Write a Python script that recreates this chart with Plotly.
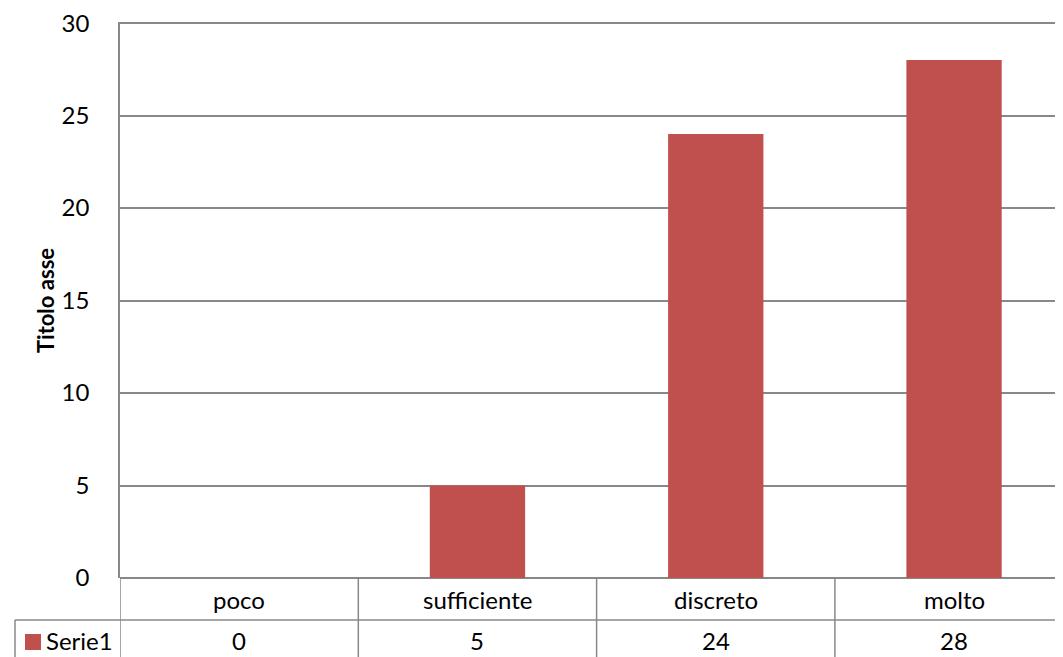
import plotly.graph_objects as go

categories = ["poco", "sufficiente", "discreto", "molto"]
values = [0, 5, 24, 28]
series_name = "Serie1"
y_ticks = [0, 5, 10, 15, 20, 25, 30]
axis_title = "Titolo asse"

BAR_COLOR = "#C0504D"
GRID = "#888888"
FONT = "Lato"
FS = 24

# page body has an 8px margin; lay out in reference-pixel terms and shift
OFF = 8
W, H = 1063 - OFF, 657 - OFF
Y_MAX = 30
Y_TOP = 30.06  # a hair above 30 so the top gridline and label are drawn
REF_L, REF_T, REF_B = 120, 23, 578  # plot area in reference pixels (y=30 at REF_T)
px_per_unit = (REF_B - REF_T) / Y_MAX
plot_h = px_per_unit * Y_TOP
L = REF_L - OFF
B = H - (REF_B - OFF)
T = H - B - plot_h
plot_w = W - L
cat_w = 238.3  # pixel width of a category

def px_to_paper_x(px):
    return (px - OFF - L) / plot_w

def px_to_paper_y(py):
    return (REF_B - py) / plot_h

x_idx = list(range(len(categories)))
x_max = -0.5 + plot_w / cat_w

fig = go.Figure()
fig.add_trace(go.Bar(x=x_idx, y=values, marker=dict(color=BAR_COLOR, line=dict(width=0)),
                     name=series_name, showlegend=False))

shapes = []
for i in range(len(categories) + 1):
    shapes.append(dict(type="line", xref="x", yref="paper", x0=i - 0.5, x1=i - 0.5,
                       y0=0, y1=px_to_paper_y(670), line=dict(color=GRID, width=1.5)))
shapes.append(dict(type="line", xref="paper", yref="paper", x0=px_to_paper_x(15), x1=1.05,
                   y0=px_to_paper_y(620), y1=px_to_paper_y(620), line=dict(color=GRID, width=1.5)))
shapes.append(dict(type="line", xref="paper", yref="paper", x0=px_to_paper_x(15), x1=px_to_paper_x(15),
                   y0=px_to_paper_y(620), y1=px_to_paper_y(670), line=dict(color=GRID, width=1.5)))
shapes.append(dict(type="rect", xref="paper", yref="paper", x0=px_to_paper_x(25), x1=px_to_paper_x(41),
                   y0=px_to_paper_y(650), y1=px_to_paper_y(634), fillcolor=BAR_COLOR, line=dict(width=0)))

annotations = []
for i, (c, v) in enumerate(zip(categories, values)):
    annotations.append(dict(x=i, xref="x", y=px_to_paper_y(600), yref="paper", text=c, showarrow=False,
                            xanchor="center", yanchor="middle", font=dict(family=FONT, size=FS, color="black")))
    annotations.append(dict(x=i, xref="x", y=px_to_paper_y(641), yref="paper", text=str(v), showarrow=False,
                            xanchor="center", yanchor="middle", font=dict(family=FONT, size=FS, color="black")))
annotations.append(dict(x=px_to_paper_x(44), xref="paper", y=px_to_paper_y(641), yref="paper", text=series_name,
                        showarrow=False, xanchor="left", yanchor="middle",
                        font=dict(family=FONT, size=FS, color="black")))
annotations.append(dict(x=px_to_paper_x(45), xref="paper", y=px_to_paper_y(301), yref="paper",
                        text="<b>" + axis_title + "</b>",
                        showarrow=False, textangle=-90, xanchor="center", yanchor="middle",
                        font=dict(family=FONT, size=22, color="black")))

fig.update_layout(
    width=W, height=H,
    margin=dict(l=L, r=0, t=T, b=B, pad=0),
    paper_bgcolor="white", plot_bgcolor="white",
    bargap=0.6,
    shapes=shapes, annotations=annotations,
    font=dict(family=FONT, size=FS, color="black"),
    xaxis=dict(range=[-0.5, x_max], showticklabels=False, showgrid=False, zeroline=False,
               showline=False, ticks=""),
    yaxis=dict(range=[0, Y_TOP], tickvals=y_ticks, showgrid=True, gridcolor=GRID, gridwidth=1.5,
               zeroline=True, zerolinecolor=GRID, zerolinewidth=1.5,
               showline=True, linecolor=GRID, linewidth=1.5, ticks="",
               ticklabeloverflow="allow",
               ticklabelstandoff=24, tickfont=dict(family=FONT, size=FS, color="black")),
)

fig.write_html("out.html")
